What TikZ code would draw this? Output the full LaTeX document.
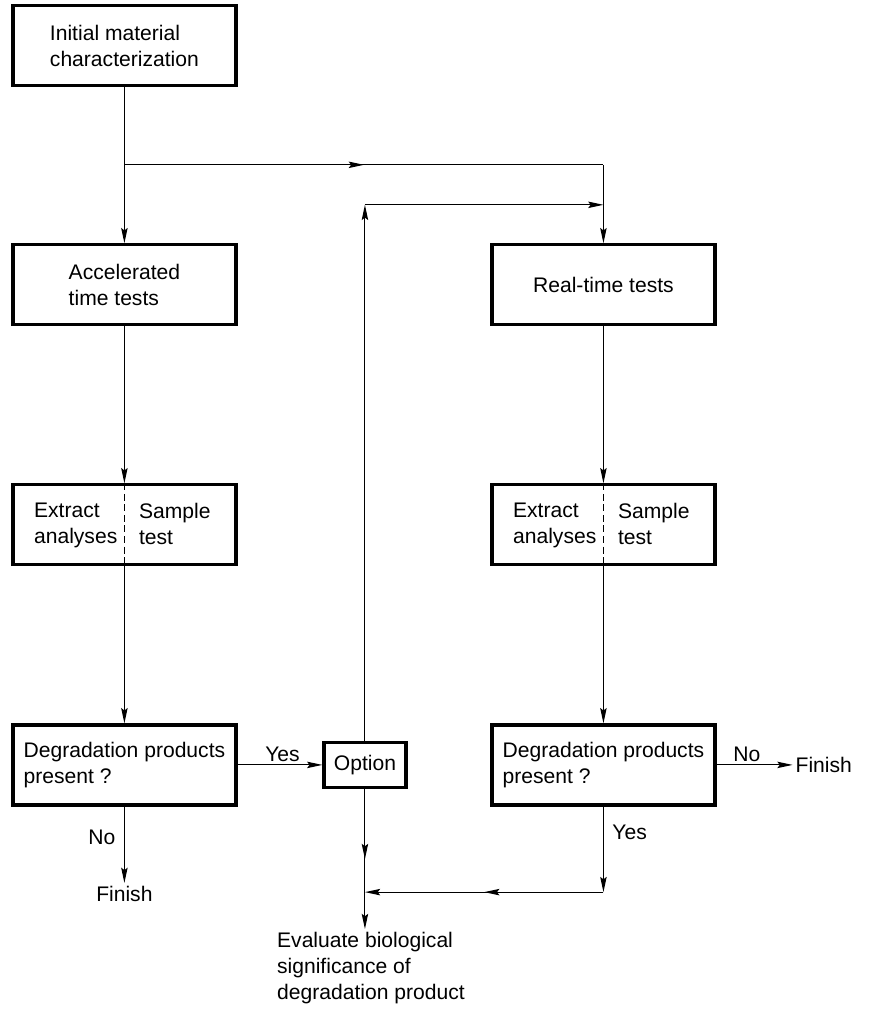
\documentclass[tikz,border=0pt]{standalone}
\usepackage{fontspec}
\setmainfont{Liberation Sans}
\usetikzlibrary{positioning,arrows.meta,decorations.markings}
\newcommand{\boxfont}{\fontsize{15}{18.5}\selectfont}

\begin{document}
\begin{tikzpicture}[
  box/.style={rectangle, draw, line width=2.3pt, minimum width=5.575cm, minimum height=2cm, align=left, font=\boxfont},
  smallbox/.style={rectangle, draw, line width=2.3pt, minimum width=2.05cm, minimum height=1.125cm, font=\boxfont},
  txt/.style={inner sep=2pt, align=left, font=\boxfont},
  flow/.style={line width=0.8pt},
  divider/.style={line width=1.1pt, dash pattern=on 5pt off 2.5pt},
  midarrow/.style={postaction={decorate}, decoration={markings, mark=at position 0.5 with {\arrow{>}}}},
  >={Stealth[length=3.8mm, width=1.6mm, inset=0.6mm]}
]
\useasboundingbox (0,0) rectangle (21.725,-25.3);

\node[box] (init) at (3.11,-1.14) {Initial material\\characterization};
\node[box, below=3.9cm of init] (accel) {Accelerated\\time tests};
\node[box, below=3.92cm of accel] (extl) {};
\node[box, below=3.92cm of extl] (degl) {Degradation products\\present ?};

\node[box, right=6.32cm of accel] (real) {Real-time tests};
\node[box, below=3.92cm of real] (extr) {};
\node[box, below=3.92cm of extr] (degr) {Degradation products\\present ?};

\node[smallbox, right=2.12cm of degl] (opt) {Option};

\node[txt, below=1.91cm of degl] (finl) {Finish};
\node[txt, right=1.9cm of degr] (finr) {Finish};
\node[txt, below=3.5cm of opt, xshift=0.15cm] (eval) {Evaluate biological\\significance of\\degradation product};

\node[txt, inner sep=0pt, anchor=north east] (extlt) at ([xshift=-0.17cm, yshift=0.56cm]extl.center) {Extract\\analyses};
\node[txt, inner sep=0pt, anchor=north west] (extls) at ([xshift=0.36cm, yshift=0.56cm]extl.center) {Sample\\test};
\node[txt, inner sep=0pt, anchor=north east] (extrt) at ([xshift=-0.17cm, yshift=0.56cm]extr.center) {Extract\\analyses};
\node[txt, inner sep=0pt, anchor=north west] (extrs) at ([xshift=0.36cm, yshift=0.56cm]extr.center) {Sample\\test};

\coordinate[below=1.94cm of init.south] (split);
\coordinate (turn) at (split -| real);
\coordinate[below=1cm of turn] (join);
\coordinate (loop) at (opt |- join);
\coordinate[below=2.14cm of degr.south] (ycorner);
\coordinate (merge) at (opt |- ycorner);
\coordinate (evaltop) at (opt |- eval.north);

\draw[divider] (extl.north) -- (extl.south);
\draw[divider] (extr.north) -- (extr.south);

\draw[flow,->] (init) -- (accel);
\draw[flow,midarrow] (split) -- (turn);
\draw[flow,->] (turn) -- (real);
\draw[flow,->] (opt) -- (loop);
\draw[flow,->] (loop) -- (join);
\draw[flow,->] (accel) -- (extl);
\draw[flow,->] (extl) -- (degl);
\draw[flow,->] (real) -- (extr);
\draw[flow,->] (extr) -- (degr);
\draw[flow,->] (degl) -- node[txt, above, pos=0.53] {Yes} (opt);
\draw[flow,->] (degl) -- node[txt, left=4pt, pos=0.4] {No} (finl);
\draw[flow,->] (degr) -- node[txt, above, pos=0.4] {No} (finr);
\draw[flow,->] (degr) -- node[txt, right=4pt, pos=0.3] {Yes} (ycorner);
\draw[flow,midarrow,->] (ycorner) -- (merge);
\draw[flow,midarrow,->] (opt) -- (evaltop);

\end{tikzpicture}
\end{document}
